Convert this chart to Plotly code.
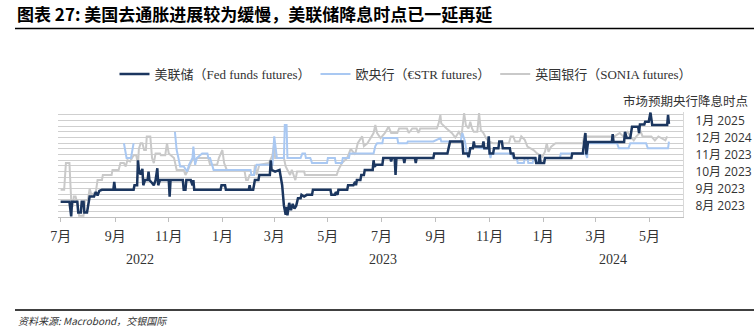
import plotly.graph_objects as go

# ---------------- data ----------------
fed_dates = [
    "2022-07-01", "2022-07-11", "2022-07-13", "2022-07-14", "2022-07-20", "2022-07-21", "2022-07-24",
    "2022-07-25", "2022-07-27", "2022-07-28", "2022-07-31", "2022-08-01", "2022-08-03", "2022-08-08",
    "2022-08-10", "2022-08-12", "2022-08-14", "2022-08-17", "2022-08-30", "2022-08-31", "2022-09-01",
    "2022-09-22", "2022-09-23", "2022-09-26", "2022-09-27", "2022-09-28", "2022-09-30", "2022-10-02",
    "2022-10-03", "2022-10-05", "2022-10-08", "2022-10-09", "2022-10-10", "2022-10-13", "2022-10-15",
    "2022-10-17", "2022-10-19", "2022-10-20", "2022-10-22", "2022-11-01", "2022-11-02", "2022-11-03",
    "2022-11-17", "2022-11-18", "2022-11-20", "2022-11-21", "2022-11-26", "2022-11-28", "2022-11-29",
    "2022-11-30", "2022-12-30", "2022-12-31", "2023-01-04", "2023-01-05", "2023-01-31", "2023-02-01",
    "2023-02-02", "2023-02-05", "2023-02-06", "2023-02-07", "2023-02-11", "2023-02-12", "2023-02-24",
    "2023-02-25", "2023-02-26", "2023-03-02", "2023-03-07", "2023-03-10", "2023-03-12", "2023-03-14",
    "2023-03-15", "2023-03-16", "2023-03-18", "2023-03-20", "2023-03-22", "2023-03-24", "2023-03-26",
    "2023-03-28", "2023-03-31", "2023-04-01", "2023-04-04", "2023-04-07", "2023-04-13", "2023-04-14",
    "2023-05-04", "2023-05-05", "2023-05-09", "2023-05-10", "2023-05-12", "2023-05-13", "2023-05-23",
    "2023-05-24", "2023-05-30", "2023-06-01", "2023-06-02", "2023-06-03", "2023-06-07", "2023-06-08",
    "2023-06-11", "2023-06-12", "2023-06-21", "2023-06-22", "2023-06-23", "2023-06-25", "2023-07-02",
    "2023-07-03", "2023-07-11", "2023-07-12", "2023-07-13", "2023-07-16", "2023-07-17", "2023-07-18",
    "2023-07-26", "2023-07-27", "2023-07-28", "2023-08-08", "2023-08-09", "2023-08-10", "2023-08-29",
    "2023-08-30", "2023-09-14", "2023-09-15", "2023-09-17", "2023-10-01", "2023-10-02", "2023-10-07",
    "2023-10-08", "2023-10-09", "2023-10-10", "2023-10-13", "2023-10-14", "2023-10-15", "2023-10-24",
    "2023-10-25", "2023-10-26", "2023-10-30", "2023-10-31", "2023-11-01", "2023-11-05", "2023-11-06",
    "2023-11-11", "2023-11-12", "2023-11-15", "2023-11-16", "2023-11-24", "2023-11-25", "2023-11-28",
    "2023-11-29", "2023-12-23", "2023-12-24", "2023-12-27", "2023-12-28", "2023-12-29", "2024-01-02",
    "2024-01-03", "2024-02-02", "2024-02-03", "2024-02-15", "2024-02-16", "2024-02-18", "2024-02-19",
    "2024-02-21", "2024-03-19", "2024-03-20", "2024-03-21", "2024-04-02", "2024-04-03", "2024-04-05",
    "2024-04-09", "2024-04-11", "2024-04-18", "2024-04-19", "2024-04-20", "2024-04-25", "2024-04-26",
    "2024-04-30", "2024-05-02", "2024-05-04", "2024-05-21", "2024-05-22", "2024-05-23",
]
fed_values = [
    2.7, 2.7, 0.1, 2.7, 2.7, 0.8, 0.8,
    2.7, 2.7, 0.8, 0.8, 1.8, 3.6, 3.6,
    4.4, 3.8, 4.6, 4.8, 4.8, 6.2, 4.8,
    4.8, 5.6, 5.6, 10.0, 8.3, 7.5, 8.5,
    5.6, 6.5, 6.5, 8.0, 6.5, 6.0, 5.6,
    6.5, 8.6, 5.6, 6.5, 6.5, 3.6, 6.5,
    6.5, 4.8, 4.8, 6.5, 6.5, 5.6, 6.5,
    4.8, 4.8, 5.6, 5.6, 4.8, 4.8, 5.6,
    4.8, 4.8, 5.6, 6.5, 6.5, 7.4, 7.4,
    10.0, 8.3, 8.0, 8.3, 5.6, 2.0, 0.4,
    1.8, 0.3, 2.5, 1.2, 2.3, 1.5, 2.0,
    3.3, 3.3, 3.9, 3.6, 3.9, 3.9, 4.8,
    4.8, 3.9, 3.9, 4.4, 3.9, 4.8, 4.8,
    5.6, 5.6, 6.2, 5.6, 6.5, 6.5, 7.4,
    7.4, 8.3, 8.3, 10.0, 8.9, 9.2, 9.2,
    10.4, 10.4, 9.8, 10.4, 10.4, 7.4, 10.4,
    10.4, 9.5, 10.4, 10.4, 9.5, 10.4, 10.4,
    11.2, 11.2, 12.1, 13.3, 13.3, 11.2, 11.2,
    10.6, 11.2, 12.1, 12.1, 13.3, 12.4, 12.4,
    13.3, 12.1, 12.1, 14.2, 11.2, 11.2, 12.1,
    12.1, 13.3, 13.3, 12.1, 12.1, 11.2, 11.2,
    10.4, 10.4, 9.5, 9.5, 11.0, 9.5, 9.5,
    10.4, 10.4, 11.2, 11.2, 12.4, 14.8, 11.0,
    13.2, 13.2, 14.6, 13.2, 13.2, 15.0, 13.9,
    13.9, 15.9, 15.9, 14.8, 16.3, 16.3, 16.8,
    16.8, 18.4, 16.2, 16.2, 18.0, 16.4,
]

ecb_dates = [
    "2022-09-11", "2022-09-14", "2022-09-19", "2022-09-22", "2022-10-15",
    "2022-11-08", "2022-11-10", "2022-11-12", "2022-11-14", "2022-11-18", "2022-11-22", "2022-11-24",
    "2022-11-28", "2022-11-29", "2022-12-01", "2022-12-03", "2022-12-09", "2022-12-15", "2022-12-16",
    "2022-12-18", "2022-12-20", "2022-12-22", "2023-02-02", "2023-02-03", "2023-02-06", "2023-02-07",
    "2023-02-09", "2023-02-27", "2023-03-01", "2023-03-04", "2023-03-12", "2023-03-13", "2023-03-15",
    "2023-03-16", "2023-03-31", "2023-04-02", "2023-04-05", "2023-04-06", "2023-04-11", "2023-04-13",
    "2023-04-30", "2023-05-01", "2023-05-09", "2023-05-10", "2023-05-17", "2023-05-18", "2023-05-25",
    "2023-05-26", "2023-06-07", "2023-06-22", "2023-06-24", "2023-06-26", "2023-07-02", "2023-07-03",
    "2023-07-19", "2023-07-20", "2023-07-30", "2023-07-31", "2023-08-29", "2023-09-06", "2023-09-07",
    "2023-09-29", "2023-10-01", "2023-10-04", "2023-10-06", "2023-10-08", "2023-10-10", "2023-10-14",
    "2023-10-22", "2023-10-31", "2023-11-01", "2023-11-02", "2023-11-03", "2023-11-26", "2023-11-28",
    "2023-12-02", "2023-12-03", "2023-12-10", "2023-12-11", "2023-12-14", "2023-12-15", "2023-12-20",
    "2023-12-21", "2023-12-24", "2023-12-25", "2024-01-02", "2024-01-03", "2024-01-20", "2024-01-21",
    "2024-02-18", "2024-02-20", "2024-02-21", "2024-03-25", "2024-03-27", "2024-04-07", "2024-04-09",
    "2024-04-27", "2024-04-29", "2024-05-22", "2024-05-23",
]
ecb_values = [
    13.0, 10.4, 10.4, 13.0, None,
    15.0, 11.8, 10.4, 8.9, 8.9, 8.0, 9.2,
    10.4, 12.4, 9.2, 10.4, 11.2, 11.2, 10.4,
    10.4, 9.2, 8.3, 8.3, 7.4, 7.4, 8.3,
    9.2, 9.2, 14.2, 10.4, 10.4, 16.2, 16.2,
    10.4, 10.4, 11.2, 11.2, 10.4, 10.4, 9.5,
    9.5, 10.4, 10.4, 9.5, 9.5, 10.4, 10.4,
    11.2, 11.2, 11.2, 12.5, 13.0, 13.0, 13.9,
    13.9, 13.0, 13.0, 13.3, 13.3, 13.9, 13.3,
    13.3, 14.8, 13.3, 11.2, 10.4, 12.1, 12.4,
    12.1, 12.1, 11.2, 10.4, 11.2, 11.2, 10.4,
    10.4, 9.5, 9.5, 10.4, 10.4, 9.5, 9.5,
    10.4, 10.4, 9.5, 9.5, 10.4, 10.4, 11.2,
    11.2, 10.4, 13.0, 13.0, 12.1, 12.1, 13.0,
    13.0, 12.1, 12.1, 13.3,
]

boe_dates = [
    "2022-07-01", "2022-07-05", "2022-07-07", "2022-07-11", "2022-07-13", "2022-07-15", "2022-07-16",
    "2022-07-18", "2022-07-20", "2022-07-22", "2022-07-27", "2022-07-29", "2022-08-01", "2022-08-03",
    "2022-08-05", "2022-08-10", "2022-08-12", "2022-08-17", "2022-08-18", "2022-08-28", "2022-08-29",
    "2022-09-05", "2022-09-07", "2022-09-11", "2022-09-13", "2022-09-15", "2022-09-18", "2022-09-22",
    "2022-09-25", "2022-09-27", "2022-09-28", "2022-09-30", "2022-10-02", "2022-10-04", "2022-10-06",
    "2022-10-07", "2022-10-11", "2022-10-13", "2022-10-15", "2022-10-17", "2022-10-22", "2022-10-23",
    "2022-10-28", "2022-10-30", "2022-11-01", "2022-11-07", "2022-11-10", "2022-11-18", "2022-11-20",
    "2022-11-23", "2022-11-26", "2022-11-29", "2022-12-01", "2022-12-03", "2022-12-16", "2022-12-18",
    "2022-12-26", "2022-12-28", "2023-01-01", "2023-01-03", "2023-01-06", "2023-01-26", "2023-01-28",
    "2023-01-30", "2023-02-01", "2023-02-06", "2023-02-07", "2023-02-09", "2023-02-12", "2023-02-23",
    "2023-02-27", "2023-03-01", "2023-03-02", "2023-03-12", "2023-03-14", "2023-03-19", "2023-03-21",
    "2023-03-25", "2023-03-27", "2023-04-04", "2023-04-05", "2023-05-11", "2023-05-13", "2023-05-17",
    "2023-05-23", "2023-05-27", "2023-06-01", "2023-06-04", "2023-06-09", "2023-06-11", "2023-06-15",
    "2023-06-19", "2023-06-22", "2023-06-24", "2023-06-26", "2023-06-30", "2023-07-05", "2023-07-09",
    "2023-07-12", "2023-07-19", "2023-07-21", "2023-07-30", "2023-08-01", "2023-08-05", "2023-08-10",
    "2023-08-12", "2023-08-14", "2023-09-02", "2023-09-04", "2023-09-06", "2023-09-07", "2023-09-13",
    "2023-09-19", "2023-09-23", "2023-09-27", "2023-09-30", "2023-10-03", "2023-10-05", "2023-10-08",
    "2023-10-10", "2023-10-12", "2023-10-14", "2023-10-18", "2023-10-20", "2023-10-22", "2023-10-25",
    "2023-10-28", "2023-10-31", "2023-11-05", "2023-11-23", "2023-11-25", "2023-11-28", "2023-11-30",
    "2023-12-05", "2023-12-07", "2023-12-11", "2023-12-14", "2023-12-21", "2023-12-25", "2023-12-31",
    "2024-01-03", "2024-01-05", "2024-01-07", "2024-01-10", "2024-01-15", "2024-02-15", "2024-02-17",
    "2024-02-20", "2024-03-18", "2024-03-22", "2024-03-28", "2024-04-01", "2024-04-06", "2024-04-09",
    "2024-04-13", "2024-04-16", "2024-04-21", "2024-04-23", "2024-05-03", "2024-05-07", "2024-05-11",
    "2024-05-19", "2024-05-21",
]
boe_values = [
    4.8, 4.8, 9.5, 9.5, 3.0, 1.8, 3.6,
    3.6, 2.4, 0.2, 0.2, 3.0, 3.0, 5.0,
    3.9, 4.4, 6.5, 6.5, 7.4, 7.4, 8.3,
    8.3, 9.5, 9.5, 8.9, 10.0, 9.8, 10.9,
    10.9, 9.2, 12.0, 13.0, 13.0, 11.8, 11.8,
    14.2, 14.2, 10.4, 9.5, 11.2, 11.2, 10.9,
    10.9, 13.0, 11.2, 10.4, 8.3, 8.3, 7.4,
    8.3, 9.5, 10.4, 10.0, 10.4, 10.4, 9.2,
    9.2, 10.4, 11.8, 9.5, 8.3, 8.3, 6.5,
    6.5, 7.4, 7.4, 9.2, 7.4, 9.2, 9.5,
    10.9, 13.0, 10.4, 10.4, 8.9, 7.4, 8.3,
    6.5, 8.0, 8.0, 7.4, 7.4, 8.3, 9.5,
    10.4, 12.0, 11.0, 13.0, 14.2, 12.5, 13.0,
    13.9, 14.8, 16.2, 14.8, 13.9, 14.8, 15.9,
    14.8, 14.8, 15.6, 15.6, 14.8, 15.6, 15.6,
    14.8, 15.6, 15.6, 16.5, 18.0, 16.5, 15.6,
    14.8, 14.0, 15.0, 14.2, 18.3, 16.2, 15.6,
    16.8, 15.6, 15.0, 15.0, 18.3, 15.3, 14.8,
    13.9, 13.3, 13.0, 13.0, 14.2, 14.2, 13.3,
    13.3, 14.2, 13.6, 12.4, 11.8, 11.2, 10.6,
    11.5, 13.0, 11.5, 12.4, 13.0, 13.0, 14.5,
    14.2, 14.2, 14.2, 14.8, 14.2, 15.0, 14.2,
    13.5, 14.2, 15.0, 14.2, 14.2, 13.5, 14.2,
    13.5, 14.2,
]

series_names = ["美联储（Fed funds futures）", "欧央行（€STR futures）", "英国银行（SONIA futures）"]
series_colors = ["#1b365f", "#a9c8f2", "#c9c9c9"]

grid_vals = list(range(0, 19))
y_label_vals = [2, 5, 8, 11, 14, 17]
y_label_text = ["8月 2023", "9月 2023", "10月 2023", "11月 2023", "12月 2024", "1月 2025"]

year_labels = ["2022", "2023", "2024"]
year_label_dates = ["2022-09-29", "2023-07-03", "2024-03-20"]

title_text = "图表 27: 美国去通胀进展较为缓慢，美联储降息时点已一延再延"
axis_title_text = "市场预期央行降息时点"
source_text = "资料来源: Macrobond，交银国际"

# ---------------- figure ----------------
W, H = 754, 328
ML, MR, MT, MB = 58, 71, 112, 111
PW, PH = W - ML - MR, H - MT - MB


def px_x(px):
    return (px - ML) / PW


def px_y(py):
    return (H - MB - py) / PH


serif = "Liberation Serif, Noto Sans CJK SC, serif"
sans = "Open Sans, Noto Sans CJK SC, sans-serif"

fig = go.Figure()
fig.add_trace(go.Scatter(x=boe_dates, y=boe_values, mode="lines", name=series_names[2],
                         line=dict(color=series_colors[2], width=2), legendrank=3))
fig.add_trace(go.Scatter(x=ecb_dates, y=ecb_values, mode="lines", name=series_names[1],
                         line=dict(color=series_colors[1], width=2), connectgaps=False, legendrank=2))
fig.add_trace(go.Scatter(x=fed_dates, y=fed_values, mode="lines", name=series_names[0],
                         line=dict(color=series_colors[0], width=2.5), legendrank=1))

tick_text = [y_label_text[y_label_vals.index(v)] if v in y_label_vals else "" for v in grid_vals]

fig.update_layout(
    width=W, height=H,
    margin=dict(l=ML, r=MR, t=MT, b=MB, autoexpand=False),
    paper_bgcolor="white", plot_bgcolor="white",
    showlegend=True,
    legend=dict(orientation="h", x=px_x(406), y=px_y(74), xanchor="center", yanchor="middle",
                font=dict(family=serif, size=13, color="#333333"), itemwidth=30,
                bgcolor="rgba(0,0,0,0)", tracegroupgap=0),
    title=dict(text=title_text, x=17 / W, y=1 - 15 / H, xanchor="left", yanchor="middle",
               xref="container", yref="container",
               font=dict(family="Noto Sans CJK SC", size=17, color="#000000", weight="bold")),
    xaxis=dict(range=["2022-06-28", "2024-06-08"], type="date", automargin=False,
               tick0="2022-07-01", dtick="M2", tickformat="%-m月",
               ticks="outside", ticklen=4, tickcolor="#bfbfbf", tickwidth=1,
               showline=True, linecolor="#bfbfbf", linewidth=1,
               showgrid=False, zeroline=False, ticklabelstandoff=2,
               tickfont=dict(family=serif, size=14, color="#333333")),
    yaxis=dict(range=[0, 18.5], side="right", tickmode="array", tickvals=grid_vals, automargin=False,
               ticktext=tick_text, ticks="", showgrid=True, gridcolor="#cfcfcf", gridwidth=1,
               zeroline=False, showline=True, linecolor="#d9d9d9", linewidth=1,
               ticklabelstandoff=9,
               tickfont=dict(family=sans, size=12, color="#333333")),
)

for lbl, d in zip(year_labels, year_label_dates):
    fig.add_annotation(x=d, y=px_y(259), xref="x", yref="paper", text=lbl, showarrow=False,
                       xanchor="center", yanchor="middle",
                       font=dict(family=serif, size=14, color="#333333"))

fig.add_annotation(x=px_x(750), y=px_y(101), xref="paper", yref="paper", text=axis_title_text,
                   showarrow=False, xanchor="right", yanchor="middle",
                   font=dict(family=serif, size=12.5, color="#333333"))

fig.add_annotation(x=px_x(16), y=px_y(320), xref="paper", yref="paper", text="<i>" + source_text + "</i>",
                   showarrow=False, xanchor="left", yanchor="middle",
                   font=dict(family="Noto Sans CJK SC", size=10, color="#333333"))

fig.add_shape(type="line", xref="paper", yref="paper", x0=px_x(15), x1=px_x(754),
              y0=px_y(28.5), y1=px_y(28.5), line=dict(color="#000000", width=1.5))
fig.add_shape(type="line", xref="paper", yref="paper", x0=px_x(15), x1=px_x(754),
              y0=px_y(310), y1=px_y(310), line=dict(color="#000000", width=1.5))

fig.write_html("out.html")
